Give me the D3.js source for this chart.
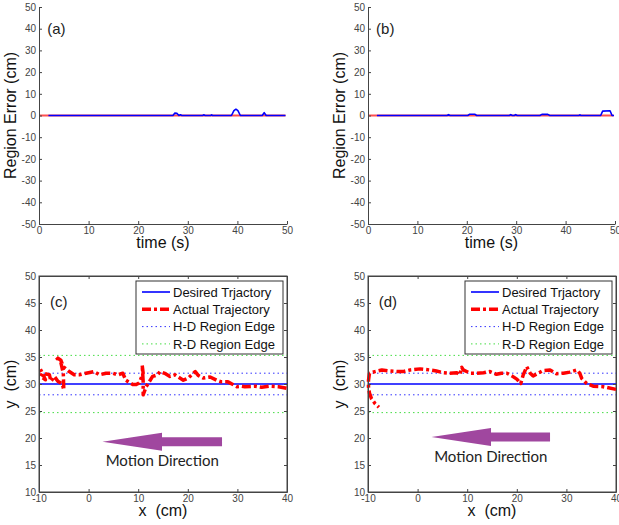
<!DOCTYPE html>
<html>
<head>
<meta charset="utf-8">
<script src="https://cdn.jsdelivr.net/npm/d3@7"></script>
<style>
  body { margin: 0; background: #fff; }
  svg { display: block; font-family: "Liberation Sans", Arial, sans-serif; }
  .tick text { fill: #444; font-size: 10px; }
  .domain, .tick line { stroke: #444; }
</style>
</head>
<body>
<svg id="chart" width="619" height="525"></svg>
<script>
// erreur de région (a) et (b) : temps (s) / erreur (cm)
const timeA = [1.9, 27.0, 27.4, 27.8, 28.2, 28.5, 28.8, 33.0, 33.2, 33.5, 34.6, 34.8, 35.0, 38.8, 39.3, 39.7, 40.1, 40.6, 45.0, 45.4, 45.8, 49.7];
const errA  = [0, 0, 1.1, 1.0, 0, 0.3, 0, 0, 0.3, 0, 0, 0.3, 0, 0, 2.2, 2.9, 2.2, 0, 0, 1.3, 0, 0];
const timeB = [1.8, 16.0, 16.3, 16.6, 20.2, 20.6, 21.6, 22.0, 28.6, 28.9, 29.2, 29.6, 29.9, 30.2, 34.8, 35.2, 36.4, 36.8, 42.7, 42.9, 43.1, 47.1, 47.5, 49.0, 49.4, 49.8];
const errB  = [0, 0, 0.4, 0, 0, 0.6, 0.6, 0, 0, 0.4, 0, 0, 0.4, 0, 0, 0.5, 0.5, 0, 0, 0.3, 0, 0, 2.0, 2.2, 0, 0];
const refTime = [0, 49.7];
const refErr = [0, 0];

// trajectoires (c) et (d) : x (cm) / y (cm)
const trajCx = [39.9, 38.3, 36.5, 34.9, 33.6, 31.5, 30.9, 29.9, 28.9, 28.1, 26.8, 25.8, 24.5, 23.1, 22.1, 21.5, 20.1, 19.1, 17.4, 16.4, 15.5, 14.4, 13.9, 12.9, 11.6, 11.0, 11.0, 10.8, 11.0, 10.2, 9.6, 8.9, 7.5, 6.9, 5.9, 4.9, 3.5, 2.2, 1.1, -0.5, -1.9, -2.9, -3.9, -5.1, -5.6, -6.7, -5.6, -5.1, -5.0, -5.3, -6.2, -6.9, -7.6, -7.9, -9.3, -9.7, -8.7, -9.8, -10];
const trajCy = [29.2, 29.5, 29.6, 29.4, 29.6, 29.5, 29.6, 29.5, 30.0, 30.4, 30.4, 30.7, 31.3, 31.1, 31.6, 32.3, 31.1, 30.7, 31.7, 31.4, 31.9, 32.3, 31.7, 31.4, 29.5, 28.0, 30.5, 33.5, 32.0, 30.2, 29.9, 29.9, 30.7, 32.0, 31.7, 32.0, 32.0, 31.7, 32.3, 32.0, 31.7, 31.7, 32.3, 33.2, 34.4, 35.1, 34.0, 32.0, 28.9, 30.0, 30.5, 31.4, 30.5, 31.7, 32.0, 31.4, 30.8, 32.9, 33.0];
const trajDx = [40, 37.4, 35.4, 34.1, 33.1, 32.7, 32.1, 30.7, 29.4, 28.0, 26.7, 25.3, 24.3, 23.3, 22.7, 22.0, 21.3, 20.8, 20.0, 19.0, 18.0, 16.9, 15.9, 14.6, 13.3, 11.9, 10.6, 9.2, 8.9, 8.5, 7.9, 6.5, 5.2, 3.8, 2.5, 0.5, -1.5, -2.9, -4.2, -5.6, -7.2, -8.6, -9.7, -9.9, -9.9, -9.7, -9.3, -8.6, -7.8];
const trajDy = [29.0, 29.5, 29.6, 30.1, 31.0, 32.0, 32.6, 32.2, 32.0, 31.9, 32.6, 32.5, 32.0, 31.5, 32.0, 33.2, 31.7, 30.1, 30.9, 31.5, 32.0, 32.0, 31.8, 32.3, 32.1, 32.0, 32.0, 32.6, 33.1, 31.7, 32.1, 32.0, 32.1, 32.4, 32.6, 32.8, 32.6, 32.3, 32.3, 32.4, 32.6, 32.3, 32.0, 30.7, 29.5, 28.3, 27.3, 26.4, 25.7];

const desiredY = 30;
const hdEdges = [28, 32];
const rdEdges = [24.7, 35.3];
const legendLabels = ["Desired Trjactory", "Actual Trajectory", "H-D Region Edge", "R-D Region Edge"];

// flèche "Motion Direction" (coordonnées données)
const arrowC = { tip: 2.8, head: 14.8, tail: 26.9, y: 19.3, textY: 15.7 };
const arrowD = { tip: 2.8, head: 14.8, tail: 26.7, y: 20.2, textY: 16.5 };

const svg = d3.select("#chart");
svg.append("rect").attr("width", 619).attr("height", 525).attr("fill", "#fff");

// boîtes des 4 panneaux (pixels)
const boxes = {
  a: { x0: 39, x1: 287, y0: 7, y1: 224 },
  b: { x0: 368, x1: 615, y0: 7, y1: 224 },
  c: { x0: 39, x1: 287, y0: 276, y1: 492 },
  d: { x0: 368, x1: 616, y0: 276, y1: 492 }
};

const fmt = d => String(d); // tiret simple comme MATLAB

function drawAxes(box, x, y, xTicks, yTicks, boxed, xLabel, yLabel) {
  svg.append("g")
    .attr("transform", "translate(0," + box.y1 + ")")
    .call(d3.axisBottom(x).tickValues(xTicks).tickFormat(fmt).tickSizeInner(-3).tickSizeOuter(0).tickPadding(3));
  svg.append("g")
    .attr("transform", "translate(" + box.x0 + ",0)")
    .call(d3.axisLeft(y).tickValues(yTicks).tickFormat(fmt).tickSizeInner(-3).tickSizeOuter(0).tickPadding(3));
  if (boxed) {
    svg.append("g")
      .attr("transform", "translate(0," + box.y0 + ")")
      .call(d3.axisTop(x).tickValues(xTicks).tickSizeInner(-3).tickSizeOuter(0).tickFormat(""));
    svg.append("g")
      .attr("transform", "translate(" + box.x1 + ",0)")
      .call(d3.axisRight(y).tickValues(yTicks).tickSizeInner(-3).tickSizeOuter(0).tickFormat(""));
  }
  const cx = (box.x0 + box.x1) / 2, cy = (box.y0 + box.y1) / 2;
  svg.append("text")
    .attr("x", cx).attr("y", box.y1 + 24)
    .attr("text-anchor", "middle").attr("font-size", 16).attr("fill", "#111")
    .style("white-space", "pre")
    .text(xLabel);
  svg.append("text")
    .attr("transform", "translate(" + (box.x0 - 23) + "," + cy + ") rotate(-90)")
    .attr("text-anchor", "middle").attr("font-size", 16).attr("fill", "#111")
    .style("white-space", "pre")
    .text(yLabel);
}

// ---- panneaux (a) et (b)
function errorPanel(box, tArr, eArr, tag) {
  const x = d3.scaleLinear().domain([0, 50]).range([box.x0, box.x1]);
  const y = d3.scaleLinear().domain([-50, 50]).range([box.y1, box.y0]);
  const line = d3.line().x(d => x(d[0])).y(d => y(d[1]));
  svg.append("path")
    .attr("d", line(refTime.map((t, i) => [t, refErr[i]])))
    .attr("fill", "none").attr("stroke", "#ff5050").attr("stroke-width", 2.2);
  svg.append("path")
    .attr("d", line(tArr.map((t, i) => [t, eArr[i]])))
    .attr("fill", "none").attr("stroke", "#0000ff").attr("stroke-width", 1.6)
    .attr("stroke-linejoin", "round");
  drawAxes(box, x, y, d3.range(0, 51, 10), d3.range(-50, 51, 10), false, "time (s)", "Region Error (cm)");
  svg.append("text")
    .attr("x", x(3.5)).attr("y", y(40)).attr("dy", "0.35em")
    .attr("text-anchor", "middle").attr("font-size", 15).attr("fill", "#222")
    .text(tag);
}

errorPanel(boxes.a, timeA, errA, "(a)");
errorPanel(boxes.b, timeB, errB, "(b)");

// ---- panneaux (c) et (d)
function trajPanel(box, xs, ys, tag, arrow) {
  const x = d3.scaleLinear().domain([-10, 40]).range([box.x0, box.x1]);
  const y = d3.scaleLinear().domain([10, 50]).range([box.y1, box.y0]);

  // bordure
  svg.append("rect")
    .attr("x", box.x0).attr("y", box.y0)
    .attr("width", box.x1 - box.x0).attr("height", box.y1 - box.y0)
    .attr("fill", "none").attr("stroke", "#444");

  const hline = (v, color, dash, w) => svg.append("line")
    .attr("x1", x(-10)).attr("x2", x(40)).attr("y1", y(v)).attr("y2", y(v))
    .attr("stroke", color).attr("stroke-width", w).attr("stroke-dasharray", dash);

  rdEdges.forEach(v => hline(v, "#44dd44", "1.5,3", 1));
  hdEdges.forEach(v => hline(v, "#3333ff", "1.5,3", 1));
  hline(desiredY, "#0000ff", null, 1.6);

  const line = d3.line().x(d => x(d[0])).y(d => y(d[1]));
  svg.append("path")
    .attr("d", line(xs.map((v, i) => [v, ys[i]])))
    .attr("fill", "none").attr("stroke", "#ff0000").attr("stroke-width", 3.5)
    .attr("stroke-dasharray", "9,3,3,3").attr("stroke-linejoin", "round");

  // flèche
  const hh = 1.67, sh = 0.83;
  const pts = [[arrow.tip, arrow.y], [arrow.head, arrow.y + hh], [arrow.head, arrow.y + sh],
    [arrow.tail, arrow.y + sh], [arrow.tail, arrow.y - sh], [arrow.head, arrow.y - sh], [arrow.head, arrow.y - hh]];
  svg.append("polygon")
    .attr("points", pts.map(p => x(p[0]) + "," + y(p[1])).join(" "))
    .attr("fill", "#a0479f");
  svg.append("text")
    .attr("x", x((arrow.tip + arrow.tail) / 2)).attr("y", y(arrow.textY)).attr("dy", "0.35em")
    .attr("text-anchor", "middle").attr("font-size", 15).attr("fill", "#222")
    .attr("font-family", "Lato, sans-serif")
    .text("Motion Direction");

  drawAxes(box, x, y, d3.range(-10, 41, 10), d3.range(10, 51, 5), true, "x  (cm)", "y  (cm)");

  svg.append("text")
    .attr("x", x(-6)).attr("y", y(45.3)).attr("dy", "0.35em")
    .attr("text-anchor", "middle").attr("font-size", 15).attr("fill", "#222")
    .text(tag);

  // légende
  const lw = 147, lh = 73;
  const lx = box.x1 - 4 - lw, ly = box.y0 + 5;
  const leg = svg.append("g").attr("transform", "translate(" + lx + "," + ly + ")");
  leg.append("rect").attr("width", lw).attr("height", lh)
    .attr("fill", "#fff").attr("stroke", "#333");
  const styles = [
    { color: "#0000ff", dash: null, w: 1.6 },
    { color: "#ff0000", dash: "9,3,3,3", w: 3.5 },
    { color: "#3333ff", dash: "1.5,3", w: 1 },
    { color: "#44dd44", dash: "1.5,3", w: 1 }
  ];
  legendLabels.forEach((label, i) => {
    const yy = 11 + i * 17.3;
    leg.append("line").attr("x1", 6).attr("x2", 34).attr("y1", yy).attr("y2", yy)
      .attr("stroke", styles[i].color).attr("stroke-width", styles[i].w)
      .attr("stroke-dasharray", styles[i].dash);
    leg.append("text").attr("x", 37).attr("y", yy).attr("dy", "0.36em")
      .attr("font-size", 13).attr("fill", "#111").text(label);
  });
}

trajPanel(boxes.c, trajCx, trajCy, "(c)", arrowC);
trajPanel(boxes.d, trajDx, trajDy, "(d)", arrowD);
</script>
</body>
</html>
